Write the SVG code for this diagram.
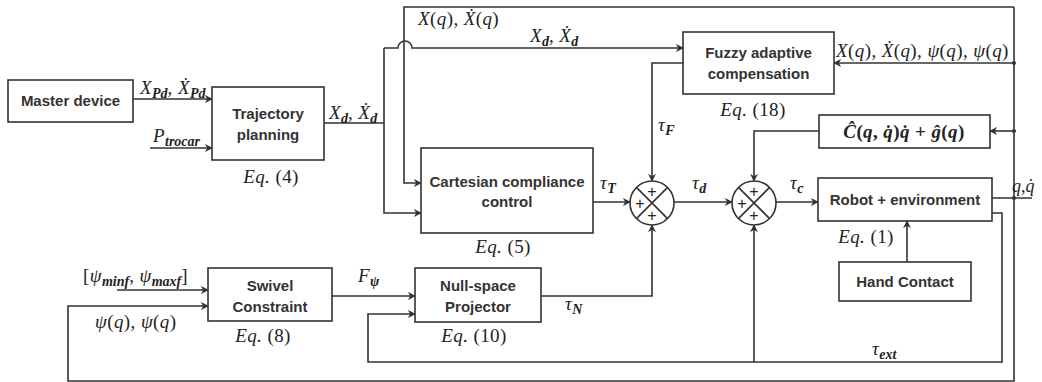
<svg xmlns="http://www.w3.org/2000/svg" width="1042" height="382" viewBox="0 0 1042 382">
<style>
.box{fill:#fff;stroke:#333;stroke-width:1.6}
.t{font-family:"Liberation Sans",Arial,sans-serif;font-size:15px;fill:#333;text-anchor:middle;font-weight:bold;}
.m{font-family:"Liberation Serif","DejaVu Serif",serif;font-size:19px;font-style:italic;fill:#222;letter-spacing:0.4px}
.u{font-style:normal}
.s{font-size:14px;font-weight:bold;letter-spacing:0}
.c{fill:none;stroke:#333;stroke-width:1.6}
.a{marker-end:url(#ah)}
.sum{fill:#fff;stroke:#333;stroke-width:1.6}
.p{font-family:"Liberation Sans",Arial,sans-serif;font-size:16px;fill:#222;text-anchor:middle}
</style>
<defs>
<marker id="ah" viewBox="0 0 10 10" refX="9" refY="5" markerWidth="8" markerHeight="8" markerUnits="userSpaceOnUse" orient="auto">
<path d="M0,0 L10,5 L0,10 L3,5 z" fill="#333"/>
</marker>
</defs>
<rect width="1042" height="382" fill="#fff"/>

<g id="connectors">
<path class="c a" d="M133,99 H212"/>
<path class="c a" d="M150,148 H212"/>
<path class="c" d="M324,123 H384"/>
<path class="c a" d="M384,48 V213 H421"/>
<path class="c a" d="M384,48 H398 A7,7 0 0 1 412,48 H683"/>
<path class="c a" d="M1014,7 H404 V183 H421"/>
<path class="c a" d="M1014,7 V381 H68 V306 H208"/>
<path class="c a" d="M1014,63 H834"/>
<path class="c a" d="M1014,131 H990"/>
<path class="c" d="M992,198 H1032"/>
<circle cx="1014" cy="63" r="2" fill="#333"/>
<circle cx="1014" cy="131" r="2" fill="#333"/>
<circle cx="1014" cy="198" r="2" fill="#333"/>
<path class="c a" d="M683,63 H652 V181"/>
<path class="c a" d="M593,202 H630"/>
<path class="c a" d="M541,296 H652 V225"/>
<path class="c a" d="M674,202 H732"/>
<path class="c a" d="M819,131 H754 V181"/>
<path class="c a" d="M776,202 H818"/>
<path class="c a" d="M907,262 V221"/>
<path class="c a" d="M992,213 H1002 V362 H368 V314 H415"/>
<path class="c a" d="M754,362 V225"/>
<path class="c a" d="M332,296 H415"/>
<path class="c a" d="M117,290 H208"/>
</g>

<g id="master"><rect class="box" x="8" y="80" width="125" height="42"/><text class="t" x="70.5" y="106">Master device</text></g>
<g id="trajectory"><rect class="box" x="212" y="87" width="112" height="73"/><text class="t" x="268" y="119">Trajectory</text><text class="t" x="268" y="140">planning</text>
<text class="m" x="271" y="183" text-anchor="middle">Eq. <tspan class="u">(4)</tspan></text></g>
<g id="cartesian"><rect class="box" x="421" y="148" width="172" height="85"/><text class="t" x="507" y="187">Cartesian compliance</text><text class="t" x="507" y="207">control</text>
<text class="m" x="503" y="253" text-anchor="middle">Eq. <tspan class="u">(5)</tspan></text></g>
<g id="fuzzy"><rect class="box" x="683" y="32" width="151" height="62"/><text class="t" x="758.5" y="58">Fuzzy adaptive</text><text class="t" x="758.5" y="79">compensation</text>
<text class="m" x="753" y="116" text-anchor="middle">Eq. <tspan class="u">(18)</tspan></text></g>
<g id="coriolis"><rect class="box" x="819" y="115" width="171" height="33"/><text class="m" x="904" y="138" text-anchor="middle" font-weight="bold">Ĉ<tspan class="u">(</tspan>q<tspan class="u">, </tspan>q̇<tspan class="u">)</tspan>q̇<tspan class="u"> + </tspan>ĝ<tspan class="u">(</tspan>q<tspan class="u">)</tspan></text></g>
<g id="robot"><rect class="box" x="818" y="178" width="174" height="43"/><text class="t" x="905" y="205">Robot + environment</text>
<text class="m" x="866" y="243" text-anchor="middle">Eq. <tspan class="u">(1)</tspan></text></g>
<g id="hand"><rect class="box" x="839" y="262" width="132" height="39"/><text class="t" x="905" y="287">Hand Contact</text></g>
<g id="swivel"><rect class="box" x="208" y="268" width="124" height="53"/><text class="t" x="270" y="291">Swivel</text><text class="t" x="270" y="312">Constraint</text>
<text class="m" x="263" y="342" text-anchor="middle">Eq. <tspan class="u">(8)</tspan></text></g>
<g id="nullspace"><rect class="box" x="415" y="268" width="126" height="54"/><text class="t" x="478" y="291">Null-space</text><text class="t" x="478" y="312">Projector</text>
<text class="m" x="474" y="342" text-anchor="middle">Eq. <tspan class="u">(10)</tspan></text></g>

<g id="sum1"><circle class="sum" cx="652" cy="203" r="22"/><path class="c" d="M636.4,187.4 L667.6,218.6 M667.6,187.4 L636.4,218.6"/>
<text class="p" x="652" y="197">+</text><text class="p" x="640" y="209">+</text><text class="p" x="652" y="221">+</text></g>
<g id="sum2"><circle class="sum" cx="754" cy="203" r="22"/><path class="c" d="M738.4,187.4 L769.6,218.6 M769.6,187.4 L738.4,218.6"/>
<text class="p" x="754" y="197">+</text><text class="p" x="742" y="209">+</text><text class="p" x="754" y="221">+</text></g>

<g id="labels">
<text class="m" x="140" y="94">X<tspan class="s" dy="4">Pd</tspan><tspan dy="-4">, Ẋ</tspan><tspan class="s" dy="4">Pd</tspan></text>
<text class="m" x="153" y="142">P<tspan class="s" dy="4">trocar</tspan></text>
<text class="m" x="329" y="119">X<tspan class="s" dy="4">d</tspan><tspan dy="-4">, Ẋ</tspan><tspan class="s" dy="4">d</tspan></text>
<text class="m" x="530" y="42">X<tspan class="s" dy="4">d</tspan><tspan dy="-4">, Ẋ</tspan><tspan class="s" dy="4">d</tspan></text>
<text class="m" x="418" y="25">X<tspan class="u">(</tspan>q<tspan class="u">), </tspan>Ẋ<tspan class="u">(</tspan>q<tspan class="u">)</tspan></text>
<text class="m" x="836" y="57">X<tspan class="u">(</tspan>q<tspan class="u">), </tspan>Ẋ<tspan class="u">(</tspan>q<tspan class="u">), </tspan>ψ<tspan class="u">(</tspan>q<tspan class="u">), </tspan>ψ<tspan class="u">(</tspan>q<tspan class="u">)</tspan></text>
<text class="m" x="658" y="131">τ<tspan class="s" dy="4">F</tspan></text>
<text class="m" x="600" y="189">τ<tspan class="s" dy="4">T</tspan></text>
<text class="m" x="692" y="189">τ<tspan class="s" dy="4">d</tspan></text>
<text class="m" x="790" y="189">τ<tspan class="s" dy="4">c</tspan></text>
<text class="m" x="565" y="310">τ<tspan class="s" dy="4">N</tspan></text>
<text class="m" x="872" y="355">τ<tspan class="s" dy="4">ext</tspan></text>
<text class="m" x="1012" y="192" style="font-size:18px;letter-spacing:0">q<tspan class="u">,</tspan>q̇</text>
<text class="m" x="358" y="282">F<tspan class="s" dy="4">ψ</tspan></text>
<text class="m" x="83" y="282"><tspan class="u">[</tspan>ψ<tspan class="s" dy="4">minf</tspan><tspan dy="-4" class="u">, </tspan>ψ<tspan class="s" dy="4">maxf</tspan><tspan class="u" dy="-4">]</tspan></text>
<text class="m" x="95" y="328">ψ<tspan class="u">(</tspan>q<tspan class="u">), </tspan>ψ<tspan class="u">(</tspan>q<tspan class="u">)</tspan></text>
</g>
</svg>
